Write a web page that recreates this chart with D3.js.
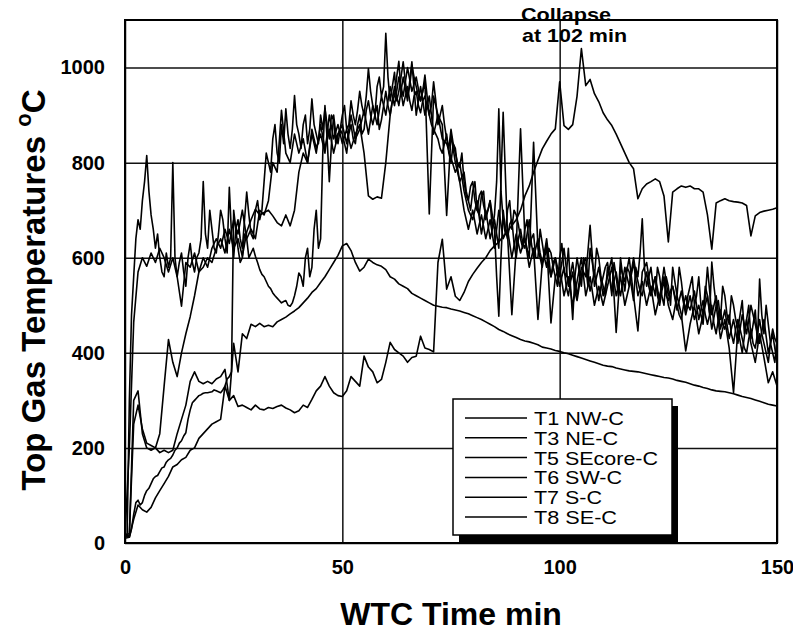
<!DOCTYPE html>
<html>
<head>
<meta charset="utf-8">
<script src="https://cdn.jsdelivr.net/npm/d3@7"></script>
<style>
body { margin: 0; background: #fff; }
text { font-family: Arial, "Liberation Sans", Helvetica, sans-serif; fill: #000; }
</style>
</head>
<body>
<svg id="chart" width="793" height="632"></svg>
<script>
// time grids: one reading per minute, and per half minute for the two busiest probes
var minutes = d3.range(0, 151);
var halfMinutes = d3.range(0, 150.5, 0.5);

var xTicks = [0, 50, 100, 150];
var yTicks = [0, 200, 400, 600, 800, 1000];

var seriesNames = ["T1 NW-C", "T3 NE-C", "T5 SEcore-C", "T6 SW-C", "T7 S-C", "T8 SE-C"];
var legendWidths = [90, 84, 124, 88, 68, 83];

// half-minute readings
var t1NW = [
  15,20, 300,480, 560,640, 680,660, 720,760,
  815,740, 690,660, 620,650, 600,570, 560,610,
  580,600, 800,600, 560,590, 610,570, 540,600,
  630,590, 570,600, 610,640, 760,650, 620,700,
  660,620, 610,650, 700,680, 640,610, 748,650,
  600,660, 680,640, 620,680, 738,690, 650,640,
  700,720, 680,700, 760,820, 800,780, 850,880,
  820,800, 880,840, 913,860, 830,870, 941,880,
  860,830, 880,900, 840,870, 934,880, 860,840,
  900,870, 913,880, 850,900, 890,840, 860,870,
  900,920, 870,880, 930,900, 880,910, 950,920,
  900,940, 998,950, 920,900, 960,980, 940,960,
  1072,980, 930,960, 990,930, 950,980, 1012,970,
  940,960, 1005,980, 960,940, 930,950, 984,940,
  900,920, 970,930, 880,900, 920,880, 850,830,
  870,840, 820,800, 790,820, 760,730, 720,700,
  740,760, 700,690, 730,740, 680,700, 720,660,
  690,760, 913,740, 680,650, 700,720, 660,700,
  690,670, 640,620, 660,680, 620,640, 650,600,
  600,660, 630,600, 580,620, 610,580, 560,540,
  600,630, 570,560, 620,540, 470,560, 600,570,
  540,600, 580,540, 620,590, 560,620, 600,560,
  540,520, 580,560, 520,590, 560,520, 600,560,
  530,580, 570,540, 510,580, 560,610, 682,580,
  540,560, 580,540, 520,580, 560,520, 500,560,
  540,500, 580,550, 520,580, 550,510, 490,520,
  540,560, 500,520, 560,500, 480,540, 520,480,
  591,540, 500,510, 470,540, 520,480, 460,520,
  500,470, 450,480, 510,440, 470,500, 430,460,
  490,420, 555,480, 440,500, 460,420, 400,380,
  430
];

var t7S = [
  10,11, 12,30, 60,85, 90,80, 85,100,
  110,115, 125,135, 140,142, 150,158, 160,170,
  175,178, 185,195, 200,210, 215,225, 232,260,
  280,295, 300,305, 310,312, 315,316, 316,317,
  318,322, 320,318, 316,322, 330,345, 350,360,
  700,660, 620,590, 600,650, 640,600, 610,620,
  603,590, 575,565, 560,550, 540,535, 526,520,
  515,510, 505,508, 510,500, 498,505, 520,540,
  568,560, 540,600, 620,560, 580,660, 700,620,
  640,820, 920,850, 760,840, 900,860, 840,870,
  860,840, 820,860, 880,850, 840,880, 900,860,
  870,910, 930,900, 880,900, 920,870, 890,920,
  950,920, 900,930, 940,980, 1013,950, 920,940,
  960,930, 910,940, 950,920, 905,930, 940,920,
  900,880, 870,860, 850,830, 820,840, 860,820,
  800,840, 830,790, 760,770, 780,740, 720,750,
  760,720, 700,730, 740,710, 690,700, 720,690,
  660,560, 477,600, 700,660, 640,670, 680,630,
  600,640, 660,630, 620,650, 680,630, 600,620,
  640,610, 590,600, 620,580, 560,590, 600,560,
  540,560, 580,540, 520,550, 570,530, 510,540,
  560,590, 600,560, 530,550, 570,540, 510,540,
  560,580, 590,560, 530,550, 570,540, 520,550,
  580,560, 540,570, 600,570, 550,530, 520,550,
  570,540, 520,540, 560,520, 500,530, 550,520,
  510,530, 540,520, 500,480, 470,500, 520,500,
  490,510, 530,500, 470,490, 510,480, 460,480,
  500,460, 440,470, 490,460, 450,470, 480,440,
  420,450, 470,450, 430,410, 400,430, 450,420,
  410,440, 470,440, 420,400, 380,420, 450,430,
  420
];

// one-minute readings
var t3NE = [
  15, 200, 464, 570, 600, 582, 610, 590, 620, 600,
  570, 600, 560, 498, 590, 580, 610, 570, 600, 580,
  620, 640, 620, 660, 630, 680, 650, 700, 640, 660,
  640, 700, 690, 720, 800, 780, 910, 820, 800, 860,
  820, 850, 800, 870, 830, 860, 820, 900, 850, 880,
  840, 870, 830, 860, 880, 820, 730, 723, 728, 725,
  800, 900, 960, 920, 980, 930, 1012, 900, 960, 900,
  940, 860, 900, 850, 840, 810, 780, 800, 740, 700,
  680, 720, 650, 700, 640, 680, 620, 906, 650, 480,
  620, 871, 640, 600, 843, 620, 580, 640, 560, 600,
  560, 620, 540, 590, 520, 580, 560, 668, 540, 580,
  520, 560, 600, 443, 580, 550, 600, 520, 446, 570,
  590, 530, 560, 510, 580, 520, 540, 490, 530, 480,
  520, 470, 500, 460, 580, 480, 520, 450, 490, 430,
  470, 420, 480, 440, 500, 460, 420, 470, 400, 440,
  380
];

var t5SEcore = [
  15, 15, 300, 320, 230, 200, 195, 200, 190, 195,
  190, 195, 230, 260, 290, 340, 360, 340, 335, 340,
  335, 345, 350, 365, 300, 310, 287, 290, 285, 280,
  290, 282, 280, 285, 283, 287, 290, 284, 280, 274,
  278, 290, 285, 302, 320, 330, 350, 330, 316, 310,
  308, 320, 350, 340, 330, 393, 370, 360, 337, 344,
  380, 422, 407, 400, 393, 380, 390, 393, 435, 410,
  407, 402, 590, 639, 534, 560, 519, 510, 527, 550,
  565, 578, 590, 600, 615, 625, 633, 645, 655, 668,
  680, 700, 730, 751, 780, 805, 829, 845, 860, 871,
  970, 878, 870, 880, 940, 1040, 962, 975, 945, 928,
  905, 890, 878, 860, 840, 820, 800, 787, 724, 745,
  755, 760, 766, 760, 730, 633, 738, 745, 751, 748,
  751, 745, 745, 738, 690, 618, 715, 720, 724, 720,
  718, 717, 715, 710, 646, 688, 695, 698, 700, 702,
  705
];

var t6SW = [
  15, 20, 250, 290, 240, 210, 205, 200, 230, 330,
  428, 380, 350, 400, 440, 476, 520, 570, 580, 600,
  590, 620, 640, 610, 660, 620, 640, 603, 654, 680,
  702, 690, 695, 700, 688, 674, 667, 690, 667, 700,
  780, 820, 800, 860, 820, 880, 830, 870, 820, 860,
  880, 840, 900, 850, 870, 910, 860, 920, 880, 940,
  900, 960, 920, 980, 940, 1000, 950, 980, 930, 970,
  692, 940, 900, 880, 689, 860, 800, 760, 700, 660,
  700, 650, 690, 640, 680, 620, 700, 640, 660, 600,
  650, 610, 640, 580, 620, 470, 590, 630, 463, 560,
  580, 520, 560, 500, 550, 600, 520, 560, 500, 540,
  500, 540, 580, 520, 560, 500, 540, 590, 520, 550,
  500, 540, 480, 520, 560, 500, 470, 520, 480, 404,
  460, 500, 440, 480, 520, 450, 500, 430, 470, 410,
  316, 450, 400, 470, 420, 380, 440, 390, 337, 360,
  330
];

var t8SE = [
  15, 12, 50, 80, 70, 65, 75, 95, 110, 125,
  140, 160, 165, 175, 180, 195, 200, 220, 230, 240,
  250, 255, 260, 330, 300, 420, 360, 440, 430, 460,
  455, 462, 455, 458, 455, 465, 470, 475, 482, 488,
  495, 505, 515, 527, 535, 548, 560, 575, 590, 605,
  625, 630, 615, 590, 572, 580, 597, 590, 585, 582,
  575, 560, 555, 545, 540, 535, 525, 520, 515, 510,
  505, 500, 498, 496, 495, 492, 490, 488, 485, 482,
  478, 474, 470, 465, 460, 455, 449, 445, 440, 436,
  432, 428, 425, 423, 420, 417, 412, 410, 408, 405,
  403, 400, 398, 395, 392, 389, 386, 383, 380, 377,
  374, 372, 371, 368, 366, 364, 362, 361, 360, 358,
  356, 354, 352, 350, 348, 347, 345, 342, 340, 338,
  335, 332, 330, 327, 325, 322, 320, 319, 318, 316,
  314, 311, 308, 306, 304, 301, 298, 295, 292, 290,
  288
];

var allSeries = [
  {t: halfMinutes, v: t1NW},
  {t: minutes, v: t3NE},
  {t: minutes, v: t5SEcore},
  {t: minutes, v: t6SW},
  {t: halfMinutes, v: t7S},
  {t: minutes, v: t8SE}
];

var plotLeft = 125, plotRight = 777, plotTop = 20, plotBottom = 543;

var svg = d3.select("#chart");

var x = d3.scaleLinear().domain([0, 150]).range([plotLeft, plotRight]);
var y = d3.scaleLinear().domain([0, 1100]).range([plotBottom, plotTop]);

svg.append("rect")
   .attr("x", plotLeft).attr("y", plotTop)
   .attr("width", plotRight - plotLeft).attr("height", plotBottom - plotTop)
   .attr("fill", "#fff");

// y grid + labels
var yAxis = svg.append("g")
   .attr("transform", "translate(" + plotLeft + ",0)")
   .call(d3.axisLeft(y).tickValues(yTicks).tickFormat(d3.format("d"))
           .tickSize(-(plotRight - plotLeft)).tickPadding(20));
yAxis.select(".domain").remove();
yAxis.selectAll("line").attr("stroke", "#111").attr("stroke-width", 1.5);
yAxis.selectAll("text")
   .style("font-size", "20px").style("font-weight", "bold")
   .style("font-family", "Arial, 'Liberation Sans', sans-serif");

// x grid + labels
var xAxis = svg.append("g")
   .attr("transform", "translate(0," + plotBottom + ")")
   .call(d3.axisBottom(x).tickValues(xTicks).tickFormat(d3.format("d"))
           .tickSize(-(plotBottom - plotTop)).tickPadding(17));
xAxis.select(".domain").remove();
xAxis.selectAll("line").attr("stroke", "#111").attr("stroke-width", 1.5);
xAxis.selectAll("text")
   .style("font-size", "20px").style("font-weight", "bold")
   .style("font-family", "Arial, 'Liberation Sans', sans-serif");

// data lines
svg.append("g").selectAll("path")
   .data(allSeries)
   .enter()
   .append("path")
   .attr("d", function(s) {
       return d3.line()
          .x(function(d, i) { return x(s.t[i]); })
          .y(function(d) { return y(d); })(s.v);
   })
   .attr("fill", "none")
   .attr("stroke", "#000")
   .attr("stroke-width", 1.6)
   .attr("stroke-linejoin", "round");

// frame
svg.append("rect")
   .attr("x", plotLeft).attr("y", plotTop)
   .attr("width", plotRight - plotLeft).attr("height", plotBottom - plotTop)
   .attr("fill", "none").attr("stroke", "#000").attr("stroke-width", 2);

// legend with drop shadow
var lg = svg.append("g");
lg.append("rect").attr("x", 459).attr("y", 406).attr("width", 219).attr("height", 136).attr("fill", "#000");
lg.append("rect").attr("x", 453).attr("y", 399).attr("width", 219).attr("height", 136)
   .attr("fill", "#fff").attr("stroke", "#000").attr("stroke-width", 1.5);

seriesNames.forEach(function(name, i) {
    var ry = 418 + i * 19.8;
    lg.append("line").attr("x1", 465).attr("x2", 527).attr("y1", ry).attr("y2", ry)
      .attr("stroke", "#000").attr("stroke-width", 1.5);
    lg.append("text").attr("x", 534).attr("y", ry + 7)
      .attr("textLength", legendWidths[i]).attr("lengthAdjust", "spacingAndGlyphs")
      .style("font-size", "19px").text(name);
});

// collapse note
svg.append("text").attr("x", 521).attr("y", 21)
   .attr("textLength", 90).attr("lengthAdjust", "spacingAndGlyphs")
   .style("font-size", "19px").style("font-weight", "bold").text("Collapse");
svg.append("text").attr("x", 522).attr("y", 42)
   .attr("textLength", 105).attr("lengthAdjust", "spacingAndGlyphs")
   .style("font-size", "19px").style("font-weight", "bold").text("at 102 min");

// axis titles
svg.append("text")
   .attr("x", 451).attr("y", 625)
   .attr("text-anchor", "middle")
   .style("font-size", "32px").style("font-weight", "bold")
   .text("WTC Time min");

var yt = svg.append("text")
   .attr("transform", "translate(45,290) rotate(-90)")
   .attr("text-anchor", "middle")
   .style("font-size", "33px").style("font-weight", "bold");
yt.append("tspan").text("Top Gas Temperatures ");
yt.append("tspan").attr("dy", -14).style("font-size", "22px").text("o");
yt.append("tspan").attr("dy", 14).text("C");
</script>
</body>
</html>
